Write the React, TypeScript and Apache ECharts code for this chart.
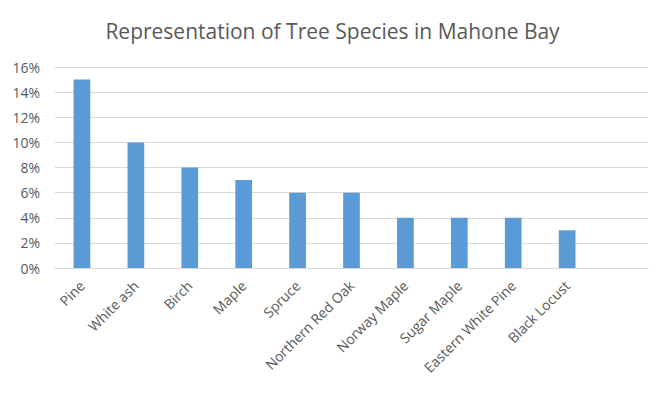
import React, { useEffect, useRef } from "react";
import * as echarts from "echarts";

const categories = ["Pine", "White ash", "Birch", "Maple", "Spruce", "Northern Red Oak", "Norway Maple", "Sugar Maple", "Eastern White Pine", "Black Locust", ""];
const shares = [0.15, 0.10, 0.08, 0.07, 0.06, 0.06, 0.04, 0.04, 0.04, 0.03, null];

export default function App() {
  const ref = useRef<HTMLDivElement>(null);
  useEffect(() => {
    if (!ref.current) return;
    const chart = echarts.init(ref.current, null, { renderer: "svg" });
    chart.setOption({
      animation: false,
      title: {
        text: "Representation of Tree Species in Mahone Bay",
        left: "center",
        top: 15,
        textStyle: { fontFamily: "Open Sans", fontSize: 21, fontWeight: "normal", color: "#595959" },
      },
      grid: { left: 55, right: 17, top: 67, bottom: 129, containLabel: false },
      xAxis: {
        type: "category",
        data: categories,
        axisLine: { lineStyle: { color: "#D9D9D9" } },
        axisTick: { show: false },
        axisLabel: { rotate: 45, interval: 0, color: "#595959", fontFamily: "Open Sans", fontSize: 14, margin: 15 },
      },
      yAxis: {
        type: "value",
        min: 0,
        max: 0.16,
        interval: 0.02,
        axisLine: { show: false },
        axisTick: { show: false },
        splitLine: { lineStyle: { color: "#D9D9D9" } },
        axisLabel: {
          color: "#595959",
          fontFamily: "Open Sans",
          fontSize: 14,
          margin: 15,
          formatter: (v: number) => Math.round(v * 100) + "%",
        },
      },
      series: [
        {
          type: "bar",
          data: shares,
          barWidth: "31%",
          itemStyle: { color: "#5B9BD5" },
        },
      ],
    });
    return () => chart.dispose();
  }, []);
  return <div ref={ref} style={{ position: "absolute", left: 0, top: 0, width: 665, height: 397 }} />;
}
